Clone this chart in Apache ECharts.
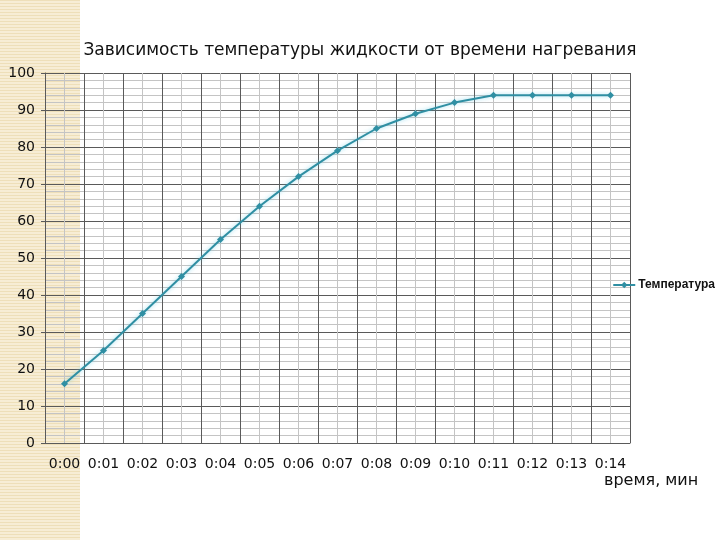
<!DOCTYPE html>
<html>
<head>
<meta charset="utf-8">
<script src="https://cdn.jsdelivr.net/npm/echarts@6/dist/echarts.min.js"></script>
<style>
  html, body { margin: 0; padding: 0; background: #fff; }
  #chart { width: 720px; height: 540px; }
</style>
</head>
<body>
<div id="chart"></div>
<script>
// время нагревания (мин) и температура жидкости
const times = ['0:00', '0:01', '0:02', '0:03', '0:04', '0:05', '0:06', '0:07',
  '0:08', '0:09', '0:10', '0:11', '0:12', '0:13', '0:14']
const temperature = [16, 25, 35, 45, 55, 64, 72, 79, 85, 89, 92, 94, 94, 94, 94]
const seriesName = 'Температура'

const LINE_COLOR = '#2f8fa3'
const MAJOR = '#5a5a5a'
const MINOR = '#c4c4c4'

// полосатая заливка слева (как на слайде)
const makePattern = () => {
  const c = document.createElement('canvas')
  c.width = 4
  c.height = 3
  const ctx = c.getContext('2d')
  ctx.fillStyle = '#f7edd5'
  ctx.fillRect(0, 0, 4, 3)
  ctx.fillStyle = '#eedfb9'
  ctx.fillRect(0, 0, 4, 1)
  return c
}

const myChart = echarts.init(document.getElementById('chart'))

const option = {
  animation: false,
  backgroundColor: '#fff',
  title: {
    text: 'Зависимость температуры жидкости от времени нагревания',
    left: 'center',
    top: 37,
    textStyle: {
      fontFamily: 'DejaVu Sans',
      fontSize: 17,
      fontWeight: 'normal',
      color: '#111'
    }
  },
  legend: {
    data: [seriesName],
    right: 0,
    top: 274,
    itemWidth: 22,
    itemHeight: 8,
    itemGap: 4,
    textStyle: { fontFamily: 'Liberation Sans', fontSize: 12, fontWeight: 'bold', color: '#111', padding: [0, 0, 0, -2] }
  },
  graphic: [
    {
      type: 'rect',
      z: -10,
      silent: true,
      shape: { x: 0, y: 0, width: 80, height: 540 },
      style: { fill: { image: makePattern(), repeat: 'repeat' } }
    },
    {
      type: 'text',
      left: 604,
      top: 473,
      style: {
        text: 'время, мин',
        fontFamily: 'DejaVu Sans',
        fontSize: 16,
        fill: '#111'
      }
    }
  ],
  grid: { left: 45, right: 90, top: 73, bottom: 97 },
  xAxis: [
    {
      type: 'category',
      data: times,
      boundaryGap: true,
      axisLine: { lineStyle: { color: MAJOR } },
      axisTick: { length: 5, lineStyle: { color: MAJOR } },
      axisLabel: {
        interval: 0,
        hideOverlap: false,
        margin: 14,
        fontFamily: 'DejaVu Sans',
        fontSize: 14,
        color: '#111'
      },
      splitLine: { show: false }
    },
    {
      // сетка: линии на границах и по серединам делений
      type: 'value',
      min: 0,
      max: 15,
      interval: 1,
      position: 'bottom',
      axisLine: { show: false },
      axisTick: { show: false },
      axisLabel: { show: false },
      splitLine: { show: true, lineStyle: { color: MAJOR } },
      minorTick: { show: false, splitNumber: 2 },
      minorSplitLine: { show: true, lineStyle: { color: MINOR } }
    }
  ],
  yAxis: {
    type: 'value',
    min: 0,
    max: 100,
    interval: 10,
    axisLine: { show: true, lineStyle: { color: MAJOR } },
    axisTick: { show: true, length: 4, lineStyle: { color: MAJOR } },
    axisLabel: {
      margin: 10,
      fontFamily: 'DejaVu Sans',
      fontSize: 14,
      color: '#111'
    },
    splitLine: { lineStyle: { color: MAJOR } },
    minorTick: { show: false, splitNumber: 5 },
    minorSplitLine: { show: true, lineStyle: { color: MINOR } }
  },
  series: [
    {
      name: seriesName,
      type: 'line',
      xAxisIndex: 0,
      data: temperature,
      symbol: 'diamond',
      symbolSize: 7,
      itemStyle: { color: LINE_COLOR },
      lineStyle: {
        color: LINE_COLOR,
        width: 2,
        shadowColor: 'rgba(90, 200, 230, 0.6)',
        shadowBlur: 4
      }
    }
  ]
}

myChart.setOption(option)
</script>
</body>
</html>
